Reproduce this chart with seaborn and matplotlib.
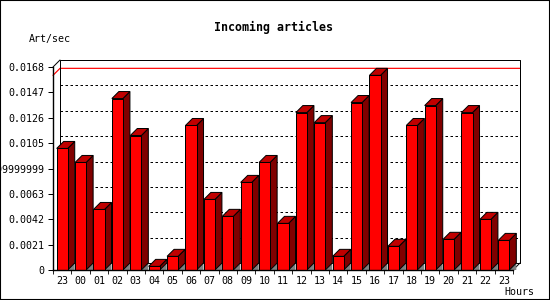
import numpy as np
import pandas as pd
import matplotlib
matplotlib.use("Agg")
import matplotlib.pyplot as plt
from matplotlib.patches import Polygon, Rectangle
import seaborn as sns

# ---- data ----
hours = ["23", "00", "01", "02", "03", "04", "05", "06", "07", "08", "09", "10",
         "11", "12", "13", "14", "15", "16", "17", "18", "19", "20", "21", "22", "23"]
rates = [0.01006, 0.00890, 0.00501, 0.01419, 0.01113, 0.00030, 0.00113, 0.01196,
         0.00584, 0.00444, 0.00725, 0.00890, 0.00386, 0.01303, 0.01220, 0.00113,
         0.01386, 0.01611, 0.00196, 0.01196, 0.01361, 0.00254, 0.01303, 0.00419,
         0.00245]
ytick_vals = [0, 0.0021, 0.0042, 0.0063, 0.0084, 0.0105, 0.0126, 0.0147, 0.0168]
ytick_labels = ["0", "0.0021", "0.0042", "0.0063", "0.008399999999999999",
                "0.0105", "0.0126", "0.0147", "0.0168"]
title = "Incoming articles"
ylabel = "Art/sec"
xlabel = "Hours"

df = pd.DataFrame({"slot": np.arange(len(rates)), "rate": rates})
n = len(rates)

sns.set_style("white")
plt.rcParams["font.family"] = ["DejaVu Sans Mono"]

W, H = 550, 300
fig = plt.figure(figsize=(W / 100, H / 100), dpi=100)
fig.patch.set_facecolor("white")
ax_l, ax_r, ax_t, ax_b = 53, 513, 67, 270
ax = fig.add_axes([ax_l / W, 1 - ax_b / H, (ax_r - ax_l) / W, (ax_b - ax_t) / H])
ax.set_facecolor("none")

ymax = 0.0168
LW = 0.72
DPX = 7
dx = DPX / ((ax_r - ax_l) / n)
dy = DPX / (ax_b - ax_t) * ymax

sns.barplot(data=df, x="slot", y="rate", color="#ff0000", saturation=1,
            edgecolor="black", linewidth=LW, width=0.6, ax=ax, zorder=3)
ax.set_xlim(-0.5, n - 0.5)
ax.set_ylim(0, ymax)
ax.set_xlabel("")
ax.set_ylabel("")

x0, x1 = -0.5, n - 0.5
# back grid lines (dotted)
for v in ytick_vals[1:-1]:
    ax.plot([x0 + dx, x1 + dx], [v + dy, v + dy], color="black", lw=LW,
            linestyle=(0, (2.5, 2.5)), clip_on=False, zorder=1)
# max line (red)
mx = max(rates)
ax.plot([x0, x0 + dx, x1 + dx], [mx, mx + dy, mx + dy], color="#ff0000",
        lw=LW * 1.2, clip_on=False, zorder=1.5)
# back frame
ax.plot([x0 + dx, x1 + dx, x1 + dx, x0 + dx, x0 + dx],
        [dy, dy, ymax + dy, ymax + dy, dy], color="black", lw=LW,
        clip_on=False, zorder=1.6)
# connecting diagonals
ax.plot([x0, x0 + dx], [ymax, ymax + dy], color="black", lw=LW, clip_on=False, zorder=1.6)
ax.plot([x1, x1 + dx], [0, dy], color="black", lw=LW, clip_on=False, zorder=1.6)

# 3D faces for every bar
for p in ax.patches[:]:
    if not isinstance(p, Rectangle):
        continue
    bx0 = p.get_x()
    bx1 = bx0 + p.get_width()
    h = p.get_height()
    floor = Polygon([(bx1, 0), (bx1 + dx, dy), (bx1 + dx, 0)], closed=True,
                    facecolor="#808080", edgecolor="none", clip_on=False, zorder=2)
    side = Polygon([(bx1, 0), (bx1 + dx, dy), (bx1 + dx, h + dy), (bx1, h)], closed=True,
                   facecolor="#800000", edgecolor="black", lw=LW, clip_on=False, zorder=2.5)
    top = Polygon([(bx0, h), (bx1, h), (bx1 + dx, h + dy), (bx0 + dx, h + dy)], closed=True,
                  facecolor="#c00000", edgecolor="black", lw=LW, clip_on=False, zorder=2.5)
    ax.add_patch(floor)
    ax.add_patch(side)
    ax.add_patch(top)

# spines
for s in ["top", "right"]:
    ax.spines[s].set_visible(False)
for s in ["left", "bottom"]:
    ax.spines[s].set_color("black")
    ax.spines[s].set_linewidth(LW * 1.4)
    ax.spines[s].set_zorder(4)

ax.set_yticks(ytick_vals, labels=ytick_labels)
ax.set_xticks(np.arange(n), labels=hours)
ax.set_xticks(np.arange(n + 1) - 0.5, minor=True)
ax.tick_params(axis="y", which="major", direction="out", length=3.6, width=LW,
               pad=2.9, labelsize=7.2, left=True, colors="black")
ax.tick_params(axis="x", which="major", length=0, pad=4.2, labelsize=7.2, colors="black")
ax.tick_params(axis="x", which="minor", direction="out", length=2.9, width=LW, bottom=True)
ax.grid(False)

fig.text(274 / W, 1 - 27 / H, title, ha="center", va="center", fontsize=8.4,
         fontweight="bold", color="black")
fig.text(29 / W, 1 - 39 / H, ylabel, ha="left", va="center", fontsize=7.2, color="black")
fig.text(504 / W, 1 - 292 / H, xlabel, ha="left", va="center", fontsize=7.2, color="black")

fig.patches.append(Rectangle((0, 0), 1, 1, transform=fig.transFigure, fill=False,
                             edgecolor="black", lw=1.5, zorder=10))

fig.savefig("out.png", dpi=100, facecolor="white")
